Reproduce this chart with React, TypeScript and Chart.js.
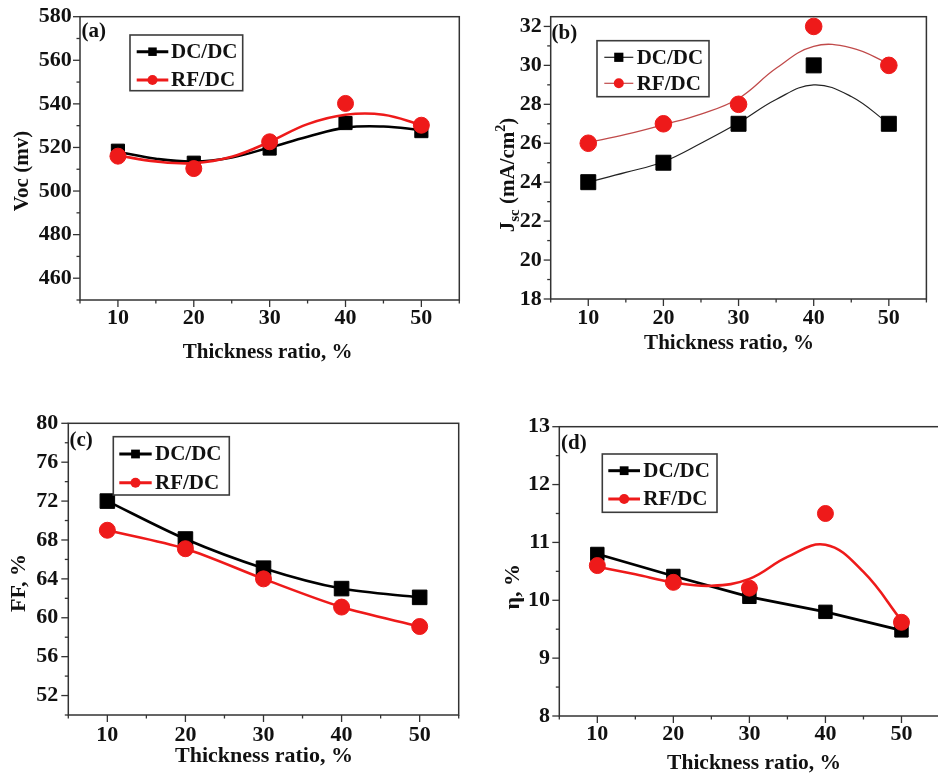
import React, { useEffect, useRef } from 'react';
import { Chart, registerables } from 'chart.js';

Chart.register(...registerables);

const SERIF = '"Liberation Serif", "Times New Roman", Times, serif';
const BLACK = '#000000';
const RED = '#ee1a1a';
const RED_THIN = '#c04a4a';
const FRAME = '#333333';

const seriesNames = ['DC/DC', 'RF/DC'];
const thickness = [10, 20, 30, 40, 50];
const fitX = [10, 15, 20, 25, 30, 35, 40, 45, 50];
const xMajorTicks = [10, 20, 30, 40, 50];
const xMinorTicks = [5, 15, 25, 35, 45, 55];
const xTitle = 'Thickness ratio, %';

// (a) Voc
const vocDC = [518.5, 513, 519.5, 531.2, 527.5];
const vocRF = [516, 510.3, 522.6, 540.2, 530.2];
const vocFitDC = [518, 514.8, 513.5, 515.4, 520, 524.9, 529.1, 529.6, 528];
const vocFitRF = [516.3, 513.6, 512.8, 515.7, 522.6, 530.7, 535, 535, 530.3];
const vocMajor = [460, 480, 500, 520, 540, 560, 580];
const vocMinor = [450, 470, 490, 510, 530, 550, 570];

// (b) Jsc
const jscDC = [24, 25, 27, 30, 27];
const jscRF = [26, 27, 28, 32, 30];
const jscFitDC = [24.0, 24.5, 25.05, 26.0, 27.05, 28.25, 29.0, 28.4, 27.0];
const jscFitRF = [26.04, 26.45, 26.95, 27.5, 28.3, 29.85, 30.98, 30.9, 30.1];
const jscMajor = [18, 20, 22, 24, 26, 28, 30, 32];
const jscMinor = [19, 21, 23, 25, 27, 29, 31];

// (c) FF
const ffDC = [72, 68.1, 65.1, 63, 62.1];
const ffRF = [69, 67.1, 64, 61.1, 59.1];
const ffMajor = [52, 56, 60, 64, 68, 72, 76, 80];
const ffMinor = [50, 54, 58, 62, 66, 70, 74, 78];

// (d) eta
const etaDC = [10.8, 10.42, 10.06, 9.8, 9.48];
const etaRF = [10.6, 10.31, 10.21, 11.5, 9.62];
const etaFitRF = [10.58, 10.45, 10.31, 10.25, 10.37, 10.75, 10.96, 10.49, 9.65];
const etaMajor = [8, 9, 10, 11, 12, 13];
const etaMinor = [8.5, 9.5, 10.5, 11.5, 12.5];

const pts = (xs: number[], ys: number[]) => xs.map((x, i) => ({ x, y: ys[i] }));

type Curve = { xs: number[]; ys: number[]; color: string; width: number; tension: number };

type Spec = {
  id: string;
  box: { left: number; top: number; width: number; height: number };
  area: { l: number; t: number; r: number; b: number };
  xRange: [number, number];
  yRange: [number, number];
  yMajor: number[];
  yMinor: number[];
  curves: Curve[];
  markers: number[][];
  rectR: number;
  circleR: number;
  legend: { x: number; y: number; w: number; h: number; x1: number; x2: number; tx: number; rows: number[]; lw: number; rectR: number; circleR: number; lineColors: string[] };
  tag: { text: string; x: number; y: number };
  xTitle: { x: number; y: number; size: number };
  yTitle: { parts: { text: string; size: number; dy?: number }[]; x: number; y: number };
  yTickPad: number;
  xTickPad: number;
};

const panels: Spec[] = [
  {
    id: 'a',
    box: { left: 0, top: 0, width: 470, height: 380 },
    area: { l: 80, t: 16.7, r: 459.3, b: 300 },
    xRange: [5, 55],
    yRange: [450, 580],
    yMajor: vocMajor,
    yMinor: vocMinor,
    curves: [
      { xs: fitX, ys: vocFitDC, color: BLACK, width: 2.6, tension: 0.4 },
      { xs: fitX, ys: vocFitRF, color: RED, width: 2.6, tension: 0.4 },
    ],
    markers: [vocDC, vocRF],
    rectR: 9.3,
    circleR: 8,
    legend: { x: 130, y: 35, w: 112.7, h: 55.7, x1: 136.7, x2: 168.3, tx: 171, rows: [51.7, 80], lw: 3, rectR: 6, circleR: 5, lineColors: [BLACK, RED] },
    tag: { text: '(a)', x: 81.5, y: 31.7 },
    xTitle: { x: 267.7, y: 353, size: 21 },
    yTitle: { parts: [{ text: 'Voc (mv)', size: 21 }], x: 21, y: 171 },
    yTickPad: 8.3,
    xTickPad: 4.8,
  },
  {
    id: 'b',
    box: { left: 470, top: 0, width: 468, height: 380 },
    area: { l: 550.7, t: 16.7, r: 928.3, b: 299 },
    xRange: [5, 55],
    yRange: [18, 32.5],
    yMajor: jscMajor,
    yMinor: jscMinor,
    curves: [
      { xs: fitX, ys: jscFitDC, color: '#222222', width: 1.2, tension: 0.4 },
      { xs: fitX, ys: jscFitRF, color: RED_THIN, width: 1.3, tension: 0.4 },
    ],
    markers: [jscDC, jscRF],
    rectR: 10.6,
    circleR: 8.3,
    legend: { x: 597, y: 40.7, w: 112, h: 56, x1: 604.3, x2: 633.3, tx: 636.7, rows: [57.3, 83.3], lw: 1.2, rectR: 6.5, circleR: 5, lineColors: ['#222222', RED_THIN] },
    tag: { text: '(b)', x: 551.5, y: 33.3 },
    xTitle: { x: 729, y: 343.3, size: 21 },
    yTitle: {
      parts: [
        { text: 'J', size: 21 },
        { text: 'sc', size: 15, dy: 5 },
        { text: ' (mA/cm', size: 21 },
        { text: '2', size: 14, dy: -9 },
        { text: ')', size: 21 },
      ],
      x: 507,
      y: 175,
    },
    yTickPad: 9,
    xTickPad: 5.8,
  },
  {
    id: 'c',
    box: { left: 0, top: 380, width: 470, height: 394 },
    area: { l: 68.3, t: 423.3, r: 461, b: 715 },
    xRange: [5, 55],
    yRange: [50, 80],
    yMajor: ffMajor,
    yMinor: ffMinor,
    curves: [
      { xs: thickness, ys: ffDC, color: BLACK, width: 2.6, tension: 0.3 },
      { xs: thickness, ys: ffRF, color: RED, width: 2.6, tension: 0.3 },
    ],
    markers: [ffDC, ffRF],
    rectR: 10.3,
    circleR: 8,
    legend: { x: 113.3, y: 436.7, w: 116, h: 58.3, x1: 119.3, x2: 151.7, tx: 155, rows: [454, 482.7], lw: 3, rectR: 6.2, circleR: 5, lineColors: [BLACK, RED] },
    tag: { text: '(c)', x: 69.5, y: 441 },
    xTitle: { x: 264, y: 756.7, size: 22 },
    yTitle: { parts: [{ text: 'FF, %', size: 22 }], x: 18.3, y: 583 },
    yTickPad: 10,
    xTickPad: 7,
  },
  {
    id: 'd',
    box: { left: 470, top: 380, width: 480, height: 394 },
    area: { l: 559.3, t: 426.7, r: 948, b: 716 },
    xRange: [5, 55],
    yRange: [8, 13],
    yMajor: etaMajor,
    yMinor: etaMinor,
    curves: [
      { xs: thickness, ys: etaDC, color: BLACK, width: 2.8, tension: 0 },
      { xs: fitX, ys: etaFitRF, color: RED, width: 2.6, tension: 0.4 },
    ],
    markers: [etaDC, etaRF],
    rectR: 9.5,
    circleR: 8,
    legend: { x: 602.3, y: 454, w: 114.7, h: 58.3, x1: 608.3, x2: 640, tx: 643.3, rows: [470.7, 499], lw: 3, rectR: 6.2, circleR: 5, lineColors: [BLACK, RED] },
    tag: { text: '(d)', x: 561, y: 443.3 },
    xTitle: { x: 754, y: 763.3, size: 21.5 },
    yTitle: { parts: [{ text: 'η, %', size: 22 }], x: 511.7, y: 586.7 },
    yTickPad: 9.3,
    xTickPad: 5.3,
  },
];

function makePlugin(spec: Spec) {
  const ox = spec.box.left;
  const oy = spec.box.top;
  return {
    id: 'decor_' + spec.id,
    beforeDatasetsDraw(chart: any) {
      const { ctx, chartArea } = chart;
      ctx.save();
      ctx.strokeStyle = FRAME;
      ctx.lineWidth = 1.5;
      ctx.strokeRect(chartArea.left, chartArea.top, chartArea.right - chartArea.left, chartArea.bottom - chartArea.top);
      ctx.restore();
    },
    afterDraw(chart: any) {
      const { ctx, chartArea } = chart;
      const xs = chart.scales.x;
      const ys = chart.scales.y;
      ctx.save();
      ctx.strokeStyle = FRAME;
      ctx.lineWidth = 1.3;
      const tick = (x1: number, y1: number, x2: number, y2: number) => {
        ctx.beginPath();
        ctx.moveTo(x1, y1);
        ctx.lineTo(x2, y2);
        ctx.stroke();
      };
      xMajorTicks.forEach((v) => {
        const p = xs.getPixelForValue(v);
        tick(p, chartArea.bottom, p, chartArea.bottom + 7);
      });
      xMinorTicks.forEach((v) => {
        const p = xs.getPixelForValue(v);
        tick(p, chartArea.bottom, p, chartArea.bottom + 3.5);
      });
      spec.yMajor.forEach((v) => {
        const p = ys.getPixelForValue(v);
        tick(chartArea.left - 7, p, chartArea.left, p);
      });
      spec.yMinor.forEach((v) => {
        const p = ys.getPixelForValue(v);
        tick(chartArea.left - 3.5, p, chartArea.left, p);
      });

      const lg = spec.legend;
      ctx.fillStyle = '#ffffff';
      ctx.fillRect(lg.x - ox, lg.y - oy, lg.w, lg.h);
      ctx.strokeStyle = '#3c3c3c';
      ctx.lineWidth = 1.6;
      ctx.strokeRect(lg.x - ox, lg.y - oy, lg.w, lg.h);
      const fills = [BLACK, RED];
      seriesNames.forEach((name, i) => {
        const ry = lg.rows[i] - oy;
        ctx.strokeStyle = lg.lineColors[i];
        ctx.lineWidth = lg.lw;
        ctx.beginPath();
        ctx.moveTo(lg.x1 - ox, ry);
        ctx.lineTo(lg.x2 - ox, ry);
        ctx.stroke();
        const mx = (lg.x1 + lg.x2) / 2 - ox;
        ctx.fillStyle = fills[i];
        if (i === 0) {
          const s = lg.rectR * Math.SQRT1_2;
          ctx.fillRect(mx - s, ry - s, 2 * s, 2 * s);
        } else {
          ctx.beginPath();
          ctx.arc(mx, ry, lg.circleR, 0, Math.PI * 2);
          ctx.fill();
        }
        ctx.fillStyle = '#111111';
        ctx.font = `bold 21px ${SERIF}`;
        ctx.textAlign = 'left';
        ctx.textBaseline = 'middle';
        ctx.fillText(name, lg.tx - ox, ry + 1);
      });

      ctx.fillStyle = '#111111';
      ctx.font = `bold 21px ${SERIF}`;
      ctx.textAlign = 'left';
      ctx.textBaseline = 'middle';
      ctx.fillText(spec.tag.text, spec.tag.x - ox, spec.tag.y - oy);

      ctx.font = `bold ${spec.xTitle.size}px ${SERIF}`;
      ctx.textAlign = 'center';
      ctx.fillText(xTitle, spec.xTitle.x - ox, spec.xTitle.y - oy);

      ctx.translate(spec.yTitle.x - ox, spec.yTitle.y - oy);
      ctx.rotate(-Math.PI / 2);
      ctx.textAlign = 'left';
      ctx.textBaseline = 'alphabetic';
      let total = 0;
      spec.yTitle.parts.forEach((p) => {
        ctx.font = `bold ${p.size}px ${SERIF}`;
        total += ctx.measureText(p.text).width;
      });
      let cx = -total / 2;
      spec.yTitle.parts.forEach((p) => {
        ctx.font = `bold ${p.size}px ${SERIF}`;
        ctx.fillText(p.text, cx, 7 + (p.dy || 0));
        cx += ctx.measureText(p.text).width;
      });
      ctx.restore();
    },
  };
}

function Panel({ spec }: { spec: Spec }) {
  const ref = useRef<HTMLCanvasElement | null>(null);
  useEffect(() => {
    if (!ref.current) return;
    const markerColors = [BLACK, RED];
    const datasets: any[] = [];
    spec.curves.forEach((c, i) => {
      datasets.push({
        label: seriesNames[i] + ' fit',
        data: pts(c.xs, c.ys),
        borderColor: c.color,
        borderWidth: c.width,
        pointRadius: 0,
        fill: false,
        showLine: true,
        tension: c.tension,
        order: i === 1 ? 1 : 3,
        clip: false,
      });
    });
    spec.markers.forEach((m, i) => {
      datasets.push({
        label: seriesNames[i],
        data: pts(thickness, m),
        showLine: false,
        pointStyle: i === 0 ? 'rect' : 'circle',
        pointRadius: i === 0 ? spec.rectR : spec.circleR,
        backgroundColor: markerColors[i],
        borderColor: markerColors[i],
        borderWidth: 1,
        order: i === 1 ? 0 : 2,
        clip: false,
      });
    });
    const tickFont = { family: SERIF, size: 22, weight: 'bold' as const, lineHeight: 1.2 };
    const chart = new Chart(ref.current, {
      type: 'line',
      data: { datasets },
      options: {
        animation: false,
        responsive: false,
        maintainAspectRatio: false,
        events: [],
        layout: {
          padding: {
            left: 0,
            bottom: 0,
            top: spec.area.t - spec.box.top,
            right: spec.box.left + spec.box.width - spec.area.r,
          },
        },
        plugins: { legend: { display: false }, tooltip: { enabled: false }, title: { display: false } },
        scales: {
          x: {
            type: 'linear',
            min: spec.xRange[0],
            max: spec.xRange[1],
            grid: { display: false, drawTicks: false },
            border: { display: false },
            afterBuildTicks: (s: any) => {
              s.ticks = xMajorTicks.map((v) => ({ value: v }));
            },
            afterFit: (s: any) => {
              s.height = spec.box.top + spec.box.height - spec.area.b;
              s.paddingLeft = 0;
              s.paddingRight = 0;
            },
            ticks: {
              font: tickFont,
              color: '#111111',
              padding: spec.xTickPad,
              autoSkip: false,
              maxRotation: 0,
              minRotation: 0,
              callback: (v: any) => String(v),
            },
          },
          y: {
            type: 'linear',
            min: spec.yRange[0],
            max: spec.yRange[1],
            grid: { display: false, drawTicks: false },
            border: { display: false },
            afterBuildTicks: (s: any) => {
              s.ticks = spec.yMajor.map((v) => ({ value: v }));
            },
            afterFit: (s: any) => {
              s.width = spec.area.l - spec.box.left;
              s.paddingTop = 0;
              s.paddingBottom = 0;
            },
            ticks: {
              font: tickFont,
              color: '#111111',
              padding: spec.yTickPad,
              autoSkip: false,
              callback: (v: any) => String(v),
            },
          },
        },
      } as any,
      plugins: [makePlugin(spec)],
    });
    return () => chart.destroy();
  }, [spec]);
  return (
    <canvas
      ref={ref}
      width={spec.box.width}
      height={spec.box.height}
      style={{
        position: 'absolute',
        left: spec.box.left,
        top: spec.box.top,
        width: spec.box.width,
        height: spec.box.height,
      }}
    />
  );
}

export default function App() {
  return (
    <div
      style={{
        position: 'fixed',
        left: 0,
        top: 0,
        width: 938,
        height: 774,
        overflow: 'hidden',
        background: '#ffffff',
      }}
    >
      {panels.map((p) => (
        <Panel key={p.id} spec={p} />
      ))}
    </div>
  );
}
